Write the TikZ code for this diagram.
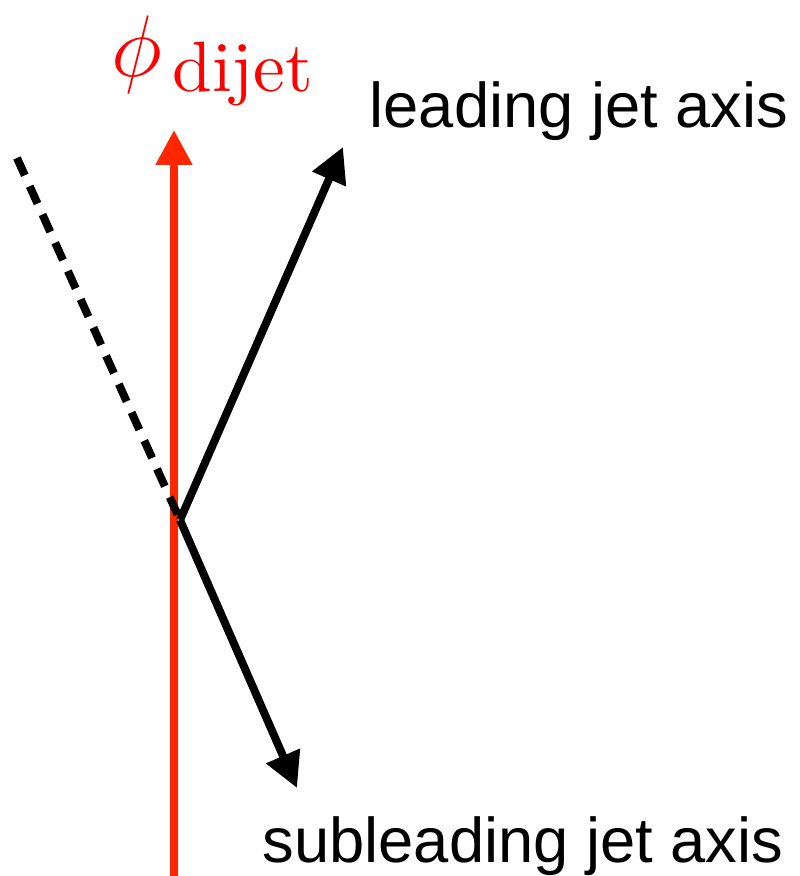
\documentclass[tikz,border=0pt]{standalone}
\usepackage{fontspec}
\setsansfont{Liberation Sans}
\newfontfamily\subfont{lmroman10-regular.otf}
\usetikzlibrary{arrows.meta}
\definecolor{ejerojo}{RGB}{255,38,0}

\begin{document}
\begin{tikzpicture}[
    eje/.style={line width=0.08cm, -{Triangle[length=0.35cm,width=0.35cm]}},
    etiqueta/.style={anchor=base west, inner sep=0, font=\sffamily\fontsize{18}{21}\selectfont}
  ]
    \useasboundingbox (0,0) rectangle (7.99,8.76);

    \coordinate (O)     at (1.80,3.56);
    \coordinate (abajo) at (1.74,0);
    \coordinate (arriba) at (1.74,7.46);
    \coordinate (lead)  at (3.43,7.29);
    \coordinate (sub)   at (2.97,0.88);
    \coordinate (back)  at (0.17,7.18);

    % Eje dijet
    \draw[eje, ejerojo] (abajo) -- (arriba);

    % Prolongacion del jet secundario
    \draw[line width=0.08cm, dash pattern=on 0.19cm off 0.12cm] (back) -- (O);

    % Ejes de los jets
    \draw[eje] (O) -- (lead);
    \draw[eje] (O) -- (sub);

    % Etiquetas
    \node[anchor=base west, inner sep=0, red] (phi) at (1.11,7.99)
        {\fontsize{27.2}{30}\selectfont$\phi$\kern0.1cm\raisebox{-0.15cm}{\subfont\fontsize{20.3}{23}\selectfont dijet}};
    \node[etiqueta] (leadtxt) at (3.69,7.48) {leading jet axis};
    \node[etiqueta] (subtxt)  at (2.62,0.13) {subleading jet axis};
\end{tikzpicture}
\end{document}
